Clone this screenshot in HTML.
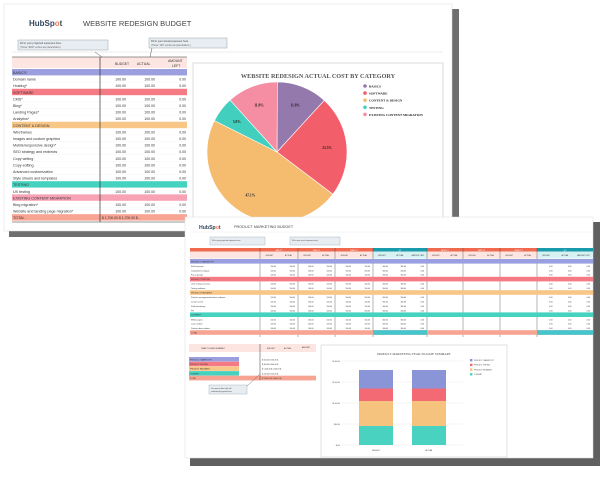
<!DOCTYPE html>
<html><head><meta charset="utf-8"><style>
html,body{margin:0;padding:0;background:#fff;width:600px;height:480px;overflow:hidden}
svg{display:block;font-family:"Liberation Sans",sans-serif}
</style></head><body>
<svg id="s" width="600" height="480" viewBox="0 0 600 480" xmlns="http://www.w3.org/2000/svg"></svg>
<script>
const s=document.getElementById('s');let h='';
function R(x,y,w,hh,f,extra){h+=`<rect x="${x}" y="${y}" width="${w}" height="${hh}" fill="${f}" ${extra||''}/>`;}
function T(x,y,t,sz,f,a,extra){h+=`<text x="${x}" y="${y}" font-size="${sz}" fill="${f||'#333'}" text-anchor="${a||'start'}" ${extra||''}>${t}</text>`;}
function L(x1,y1,x2,y2,c,w){h+=`<line x1="${x1}" y1="${y1}" x2="${x2}" y2="${y2}" stroke="${c}" stroke-width="${w||0.5}"/>`;}
// Sheet 1 shadow + page
R(9,9,450,228,'#555','opacity="0.85"');
R(4,4,448,227,'#fff','stroke="#ddd" stroke-width="0.5"');
T(29,26,'HubSp<tspan fill="#f57a5b">o</tspan>t',8,'#33475b','start','font-weight="bold"');
T(83,26,'WEBSITE REDESIGN BUDGET',7.5,'#444');
L(12,52,443,52,'#ddd',0.6);
R(18,40,90,10,'#e8edf2','stroke="#9aa8b5" stroke-width="0.5"');T(20,44,'Fill in your projected expenses here.',2.6,'#444');T(20,48,'(Those "$100" entries are placeholders.)',2.3,'#666');
R(149,38,78,10,'#e8edf2','stroke="#9aa8b5" stroke-width="0.5"');T(151,42,'Fill in your actual expenses here.',2.6,'#444');T(151,46,'(Those "100" entries are placeholders.)',2.3,'#666');
R(12,57,175,11,'#fde6e2');
T(115,65,'BUDGET',3.4,'#333');T(137,65,'ACTUAL',3.4,'#333');T(168,62,'AMOUNT',3.4,'#333');T(172,67,'LEFT',3.4,'#333');
const rows=[['BASICS','#9b9fdf'],['Domain name'],['Hosting*'],['SOFTWARE','#f47b84'],['CMS*'],['Blog*'],['Landing Pages*'],['Analytics*'],['CONTENT &amp; DESIGN','#f8c686'],['Wireframes'],['Images and custom graphics'],['Mobile/responsive design*'],['SEO strategy and redirects'],['Copy writing'],['Copy editing'],['Advanced customization'],['Style sheets and templates'],['TESTING','#45d3c0'],['UX testing'],['EXISTING CONTENT MIGRATION','#f8a2b6'],['Blog migration*'],['Website and landing page migration*'],['TOTAL','#f7a493']];
let y=69;
rows.forEach(r=>{
 if(r[1]){R(12,y,175,6.4,r[1]);}
 T(13,y+5,r[0],3.7,'#333');
 if(!r[1]){T(126,y+5,'100.00',3.5,'#333','end');T(155,y+5,'100.00',3.5,'#333','end');T(186,y+5,'0.00',3.5,'#333','end');L(12,y+6.5,187,y+6.5,'#eee',0.3);}
 if(r[0]=='TOTAL'){T(102,y+5,'$  1,700.00   $  1,700.00   $        -',3.4,'#333');}
 y+=6.6;});
L(100,57,100,222,'#333',0.7);L(12,57,187,57,'#333',0.6);L(12,222,187,222,'#333',0.6);
L(95,52,102,57,'#555',0.5);L(152,48,150,57,'#555',0.5);
// chart 1
R(193,63,250,160,'#fff','stroke="#ccc" stroke-width="0.7"');
T(318,78,'WEBSITE REDESIGN ACTUAL COST BY CATEGORY',6.2,'#555','middle','font-family="Liberation Serif" font-weight="bold"');
const cx=277,cy=152,rr=70;let a0=0;
[[11.8,'#9479ac','11.8%'],[23.5,'#f25f6b','23.5%'],[47.1,'#f5bb6e','47.1%'],[5.9,'#43cfbe','5.9%'],[11.8,'#f58ea3','11.8%']].forEach(p=>{
 const a1=a0+p[0]*3.6;const r0=(a0-90)*Math.PI/180,r1=(a1-90)*Math.PI/180;
 const x0=cx+rr*Math.cos(r0),y0=cy+rr*Math.sin(r0),x1=cx+rr*Math.cos(r1),y1=cy+rr*Math.sin(r1);
 h+=`<path d="M${cx},${cy}L${x0},${y0}A${rr},${rr} 0 ${a1-a0>180?1:0} 1 ${x1},${y1}Z" fill="${p[1]}" stroke="#fff" stroke-width="0.6"/>`;
 const m=((a0+a1)/2-90)*Math.PI/180;T(cx+rr*0.72*Math.cos(m),cy+rr*0.72*Math.sin(m)+1.5,p[2],3.6,'#222','middle','font-family="Liberation Serif" font-weight="bold"');
 a0=a1;});
[['BASICS','#9479ac'],['SOFTWARE','#f25f6b'],['CONTENT &amp; DESIGN','#f5bb6e'],['TESTING','#43cfbe'],['EXISTING CONTENT MIGRATION','#f58ea3']].forEach((l,i)=>{
 h+=`<circle cx="365" cy="${86+i*7.1}" r="1.8" fill="${l[1]}"/>`;T(369,87.5+i*7.1,l[0],3.3,'#222','start','font-family="Liberation Serif" font-weight="bold"');});
// Sheet 2
R(190,222,412,244,'#444','opacity="0.85"');
R(185,217,408,241,'#fff','stroke="#ddd" stroke-width="0.5"');
T(199,229,'HubSp<tspan fill="#f57a5b">o</tspan>t',5.2,'#33475b','start','font-weight="bold"');
T(234,228,'PRODUCT MARKETING BUDGET',3.8,'#444');
L(190,232,592,232,'#eee',0.5);
R(210,237,55,8,'#e8edf2','stroke="#9aa8b5" stroke-width="0.4"');R(290,237,50,8,'#e8edf2','stroke="#9aa8b5" stroke-width="0.4"');
T(212,241,'Fill in your projected expenses here.',1.8,'#444');T(292,241,'Fill in your actual expenses here.',1.8,'#444');
const cols=[[260,298,'JAN-YY',0],[298,335,'FEB-YY',0],[335,373,'MAR-YY',0],[373,427,'Q1',1],[427,463,'APR-YY',0],[463,500,'MAY-YY',0],[500,537,'JUNE-YY',0],[537,593,'Q2',1]];
R(190,248,403,3.5,'#f06a50');R(190,251.5,403,7,'#fde6e2');
cols.forEach(c=>{R(c[0],248,c[1]-c[0],3.5,c[3]?'#1a9bab':'#f06a50');if(c[3])R(c[0],251.5,c[1]-c[0],7,'#d8f1f3');T((c[0]+c[1])/2,250.8,c[2],2,'#fff','middle');L(c[0],248,c[0],337,'#444',0.4);
 const n=c[3]?3:2,w=(c[1]-c[0])/n;['BUDGET','ACTUAL','AMOUNT LEFT'].slice(0,n).forEach((t,i)=>T(c[0]+w*i+w/2,256,t,1.8,'#333','middle'));});
const r2=[['PRODUCT / MARKET FIT','#9a9fe0'],['Field research'],['Competitive analysis'],['Focus groups'],['PRODUCT TESTING','#f57a84'],['User testing sessions'],['Testing software'],['PRODUCT RELEASES','#f8c686'],['Product management/release software'],['Launch event'],['Paid advertising'],['PR'],['CONTENT','#45d3c0'],['White papers'],['Case studies'],['Product demo videos'],['TOTAL','#f7a493']];
y=259;
r2.forEach(r=>{const hh=r[1]?4.6:4.4;if(r[1])R(190,y,403,hh,r[1]);T(191,y+3.3,r[0],2,'#333');
 if(!r[1]){cols.forEach(c=>{if(c[0]>=427&&!c[3])return;const n=c[3]?3:2,w=(c[1]-c[0])/n;for(let i=0;i<n;i++)T(c[0]+w*(i+1)-3,y+3.3,c[3]?(i==2?'0.00':(c[0]>500?'0.00':'300.00')):'100.00',1.8,'#333','end');});}
 if(r[0]=='TOTAL'){R(373,y,54,hh,'#45c5cc');R(537,y,56,hh,'#45c5cc');}
 y+=hh;});
// summary table
R(189,344,127,8,'#fde6e2');T(213,349,'YEAR-TO-DATE SUMMARY',1.9,'#333','middle');T(267,349,'BUDGET',1.9,'#333');T(284,349,'ACTUAL',1.9,'#333');T(302,348,'AMOUNT',1.9,'#333');
[['PRODUCT / MARKET FIT','#9a9fe0','100.00'],['PRODUCT TESTING','#f57a84','400.00'],['PRODUCT RELEASES','#f8c686','1,200.00'],['CONTENT','#45d3c0','150.00'],['TOTAL','#f7a493','3,600.00']].forEach((r,i)=>{
 const yy=357+i*4.7;R(189,yy,r[0]=='TOTAL'?127:50,4.5,r[1]);if(r[0]=='TOTAL')R(189,yy,127,4.5,r[1]);T(190,yy+3.3,r[0],1.9,'#333');T(262,yy+3.3,'$  '+r[2]+'  $  '+r[2]+'  $    -',1.8,'#333');});
L(260,344,260,380,'#333',0.5);
R(209,385,38,9,'#e8edf2','stroke="#9aa8b5" stroke-width="0.4"');T(211,389,'Your year-to-date totals will',1.7,'#444');T(211,392,'automatically populate here.',1.7,'#444');
L(247,386,260,374,'#555',0.4);
// bar chart
R(321,345,186,112,'#fff','stroke="#ccc" stroke-width="0.6"');
T(414,355,'PRODUCT MARKETING YEAR-TO-DATE SUMMARY',3.1,'#444','middle','font-family="Liberation Serif"');
[361,382,403,424,445].forEach((yy,i)=>{L(342,yy,463,yy,'#e5e5e5',0.4);T(340,yy+1,['$2,000.00','$1,500.00','$1,000.00','$500.00','$0.00'][i],1.7,'#444','end');});
[[359,'BUDGET'],[412,'ACTUAL']].forEach(b=>{
 R(b[0],370,34,18.5,'#8a95d8');R(b[0],388.5,34,12.5,'#f36a74');R(b[0],401,34,25,'#f6c37e');R(b[0],426,34,19,'#4ad2c0');
 T(b[0]+17,451,b[1],1.8,'#333','middle');});
[['PRODUCT / MARKET FIT','#8a95d8'],['PRODUCT TESTING','#f36a74'],['PRODUCT RELEASES','#f6c37e'],['CONTENT','#4ad2c0']].forEach((l,i)=>{
 R(470,359+i*4.7,2.4,2.4,l[1]);T(474,361+i*4.7,l[0],1.7,'#444');});
s.innerHTML=h;
</script>
</body></html>
